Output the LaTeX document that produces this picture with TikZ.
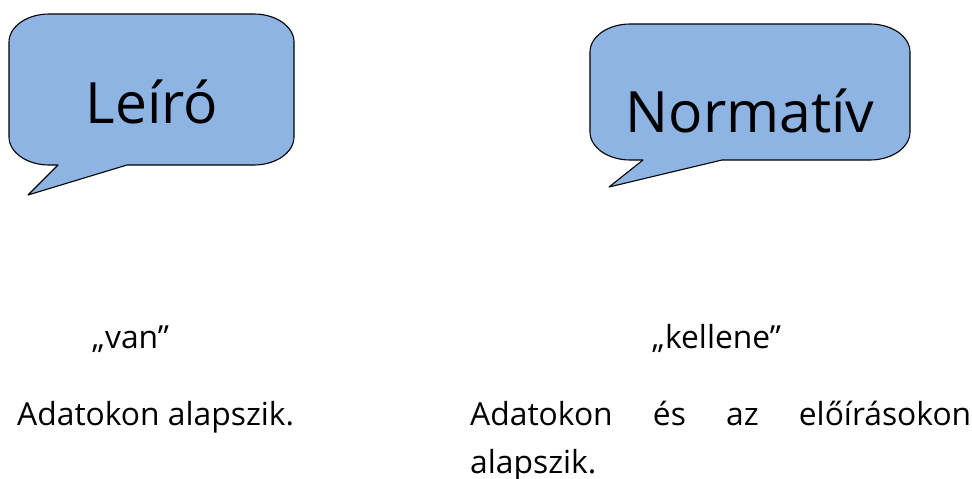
\documentclass[tikz,border=0pt]{standalone}
\usepackage{fontspec}
\setmainfont{Open Sans}
\definecolor{bubble}{RGB}{142,180,227}
\tikzset{
  bubblepath/.style={draw=black, fill=bubble, line width=1.1pt, line join=round},
  bigtxt/.style={font=\fontsize{57}{60}\selectfont, anchor=base, inner sep=0pt},
  smalltxt/.style={font=\fontsize{31.8}{48}\selectfont, anchor=base west, inner sep=0pt}
}
\newcommand{\mybubble}[9]{%
  \path[bubblepath] (#1+#5,#3) -- (#2-#5,#3)
    .. controls (#2-0.45*#5,#3) and (#2,#3+0.45*#6) .. (#2,#3+#6)
    -- (#2,#4-#6)
    .. controls (#2,#4-0.45*#6) and (#2-0.45*#5,#4) .. (#2-#5,#4)
    -- (#9,#4) -- #8 -- (#7,#4)
    -- (#1+#5,#4)
    .. controls (#1+0.45*#5,#4) and (#1,#4-0.45*#6) .. (#1,#4-#6)
    -- (#1,#3+#6)
    .. controls (#1,#3+0.45*#6) and (#1+0.45*#5,#3) .. (#1+#5,#3) -- cycle;}
\begin{document}
\begin{tikzpicture}[x=1pt,y=-1pt]
\useasboundingbox (0,0) rectangle (972,479);
\mybubble{9}{294}{14}{165}{40}{28}{58}{(28,195)}{127}
\mybubble{590}{910}{24}{160}{40}{28}{643}{(609,187)}{722}
\node[bigtxt] (leiro) at (152,123) {Leíró};
\node[bigtxt] (norm) at (750,132) {Normatív};
\node[smalltxt] (van) at (92,348) {„van”};
\node[smalltxt] (kell) at (652,348) {„kellene”};
\node[smalltxt] (adat1) at (17,425) {Adatokon alapszik.};
\node[smalltxt] (adat2) at (470,425) {\makebox[501pt][s]{Adatokon és az előírásokon}};
\node[smalltxt] (adat3) at (470,473) {alapszik.};
\end{tikzpicture}
\end{document}
